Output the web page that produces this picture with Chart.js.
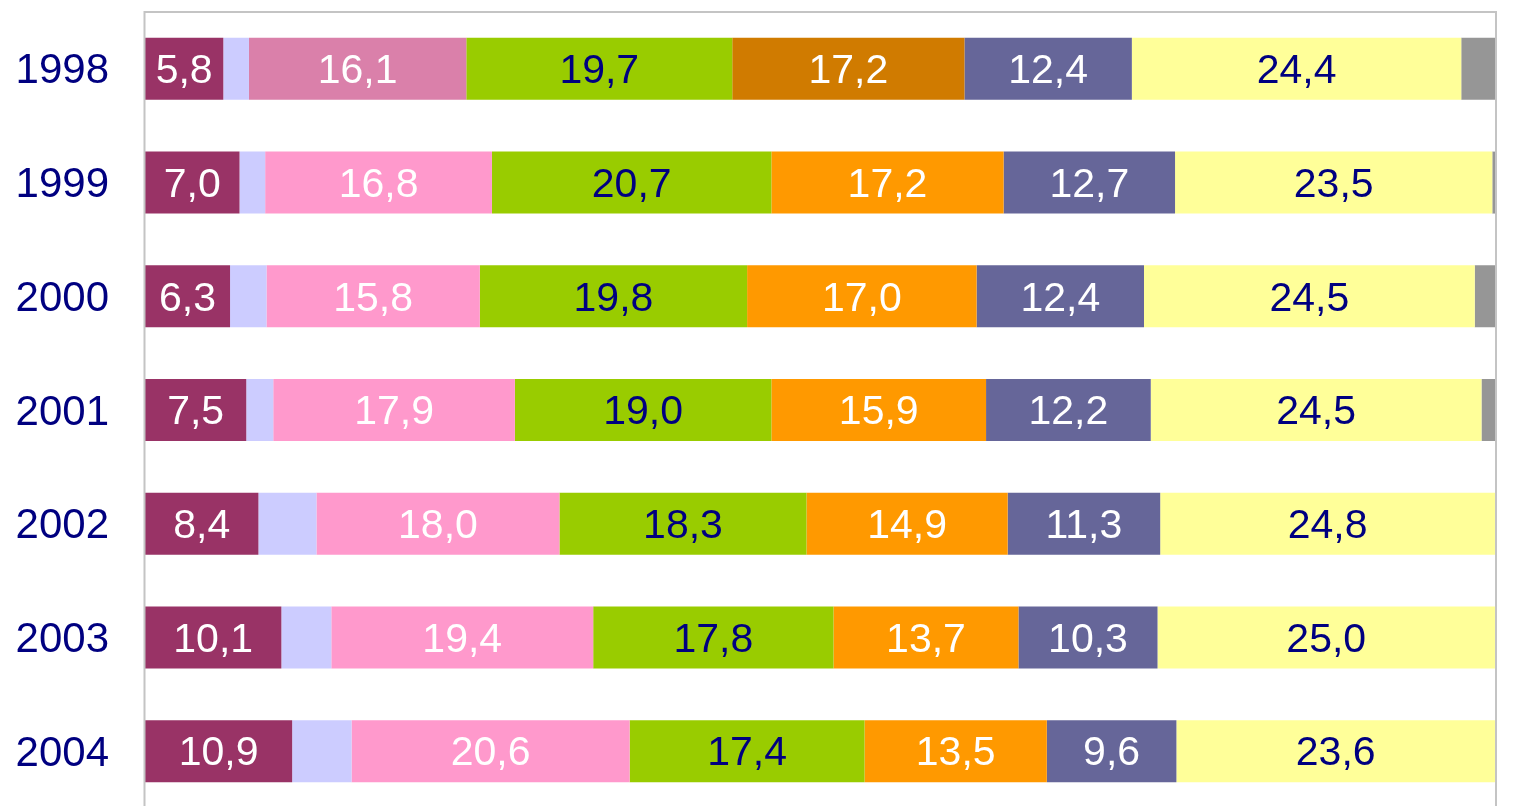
<!DOCTYPE html>
<html>
<head>
<meta charset="utf-8">
<script src="https://cdn.jsdelivr.net/npm/chart.js@4/dist/chart.umd.min.js"></script>
<style>
html,body{margin:0;padding:0;background:#fff;overflow:hidden;}
#wrap{position:absolute;left:0;top:0;width:1534px;height:808px;}
</style>
</head>
<body>
<div id="wrap"><canvas id="c" width="1534" height="808"></canvas></div>
<script>
const years = ['1998','1999','2000','2001','2002','2003','2004'];
const seriesA = [5.8, 7.0, 6.3, 7.5, 8.4, 10.1, 10.9];   // dark magenta (labelled)
const seriesB = [1.9, 1.9, 2.7, 2.0, 4.3, 3.7, 4.4];     // lavender (unlabelled)
const seriesC = [16.1, 16.8, 15.8, 17.9, 18.0, 19.4, 20.6]; // pink
const seriesD = [19.7, 20.7, 19.8, 19.0, 18.3, 17.8, 17.4]; // green
const seriesE = [17.2, 17.2, 17.0, 15.9, 14.9, 13.7, 13.5]; // orange
const seriesF = [12.4, 12.7, 12.4, 12.2, 11.3, 10.3, 9.6];  // slate
const seriesG = [24.4, 23.5, 24.5, 24.5, 24.8, 25.0, 23.6]; // yellow
const seriesH = [2.5, 0.4, 1.5, 1.0, 0.0, 0.0, 0.0];        // gray (unlabelled)

const NAVY = '#000080';
const pinkCols = years.map((y,i) => i === 0 ? '#DA80AA' : '#FF99CC');
const orangeCols = years.map((y,i) => i === 0 ? '#D07B00' : '#FF9900');

function ds(data, color, labelColor) {
  return {
    data: data,
    backgroundColor: color,
    borderWidth: 0,
    barPercentage: 0.545,
    categoryPercentage: 1.0,
    labelColor: labelColor
  };
}

const labelPlugin = {
  id: 'segLabels',
  afterDatasetsDraw(chart) {
    const ctx = chart.ctx;
    ctx.save();
    ctx.font = '41px "Liberation Sans", Arial, sans-serif';
    ctx.textAlign = 'center';
    ctx.textBaseline = 'middle';
    chart.data.datasets.forEach((d, di) => {
      if (!d.labelColor) return;
      const meta = chart.getDatasetMeta(di);
      meta.data.forEach((bar, i) => {
        const v = d.data[i];
        const txt = v.toFixed(1).replace('.', ',');
        const cx = (bar.x + bar.base) / 2;
        ctx.fillStyle = d.labelColor;
        ctx.fillText(txt, cx, bar.y + 3);
      });
    });
    ctx.restore();
  }
};

const framePlugin = {
  id: 'frame',
  afterDraw(chart) {
    const a = chart.chartArea;
    const ctx = chart.ctx;
    ctx.save();
    ctx.strokeStyle = '#C4C4C4';
    ctx.lineWidth = 2;
    ctx.beginPath();
    ctx.moveTo(a.left - 0.5, a.bottom + 5);
    ctx.lineTo(a.left - 0.5, a.top);
    ctx.lineTo(a.right + 1, a.top);
    ctx.lineTo(a.right + 1, a.bottom + 5);
    ctx.stroke();
    ctx.restore();
  }
};

new Chart(document.getElementById('c'), {
  type: 'bar',
  data: {
    labels: years,
    datasets: [
      ds(seriesA, '#993366', '#FFFFFF'),
      ds(seriesB, '#CCCCFF', null),
      ds(seriesC, pinkCols, '#FFFFFF'),
      ds(seriesD, '#99CC00', NAVY),
      ds(seriesE, orangeCols, '#FFFFFF'),
      ds(seriesF, '#666699', '#FFFFFF'),
      ds(seriesG, '#FFFF99', NAVY),
      ds(seriesH, '#969696', null)
    ]
  },
  options: {
    indexAxis: 'y',
    responsive: false,
    animation: false,
    layout: { autoPadding: false, padding: { top: 12, right: 39, bottom: 0, left: 0 } },
    plugins: { legend: { display: false }, tooltip: { enabled: false }, title: { display: false } },
    scales: {
      x: {
        stacked: true, min: 0, max: 100, display: false
      },
      y: {
        stacked: true,
        grid: { display: false, drawTicks: false, tickLength: 0 },
        border: { display: false },
        ticks: {
          color: NAVY,
          padding: 36,
          labelOffset: 3,
          autoSkip: false,
          font: { family: '"Liberation Sans", Arial, sans-serif', size: 42 }
        },
        afterFit(s) { s.width = 145; s.paddingTop = 0; s.paddingBottom = 0; }
      }
    }
  },
  plugins: [labelPlugin, framePlugin]
});
</script>
</body>
</html>
